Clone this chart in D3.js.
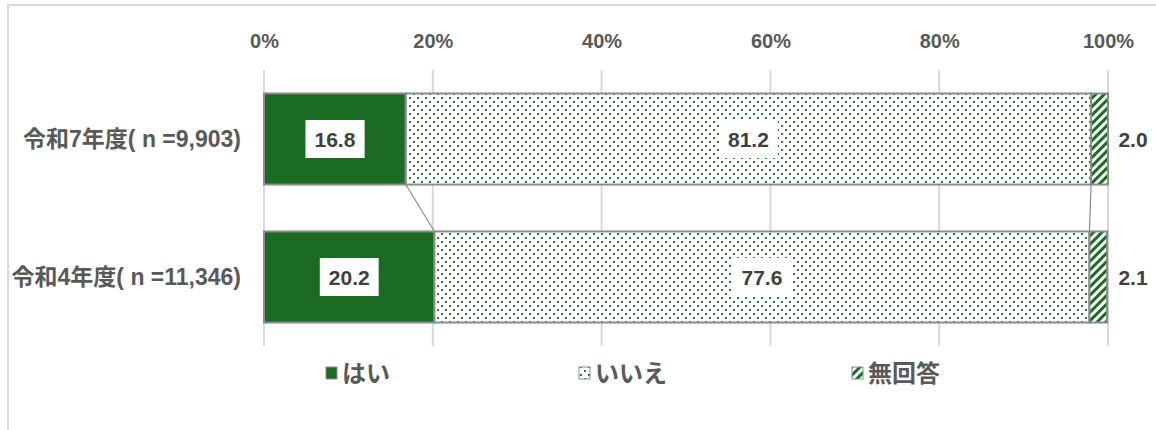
<!DOCTYPE html>
<html>
<head>
<meta charset="utf-8">
<script src="https://cdn.jsdelivr.net/npm/d3@7"></script>
<style>
  body { margin: 0; background: #fff; }
  text { font-family: "Liberation Sans", Arial, "Noto Sans CJK JP", sans-serif; font-weight: bold; }
</style>
</head>
<body>
<div id="content"></div>
<script>
(function(){

  // data
  var categories = ["令和7年度( n =9,903)", "令和4年度( n =11,346)"];
  var seriesNames = ["はい", "いいえ", "無回答"];
  var hai = [16.8, 20.2];
  var iie = [81.2, 77.6];
  var mukaitou = [2.0, 2.1];
  var tickValues = [0, 20, 40, 60, 80, 100];

  var width = 1156, height = 430;
  var margin = {top: 70, right: 48, bottom: 84, left: 264};

  var svg = d3.select("#content").append("svg")
      .attr("width", width)
      .attr("height", height);

  var defs = svg.append("defs");

  // dotted pattern for いいえ
  var dots = defs.append("pattern")
      .attr("id", "dots")
      .attr("patternUnits", "userSpaceOnUse")
      .attr("width", 8).attr("height", 8);
  dots.append("rect").attr("width", 8).attr("height", 8).attr("fill", "#fff");
  dots.append("rect").attr("x", 1).attr("y", 1).attr("width", 2).attr("height", 2).attr("fill", "#2a7a35");
  dots.append("rect").attr("x", 5).attr("y", 5).attr("width", 2).attr("height", 2).attr("fill", "#2a7a35");

  // diagonal stripes for 無回答
  var hatch = defs.append("pattern")
      .attr("id", "hatch")
      .attr("patternUnits", "userSpaceOnUse")
      .attr("width", 6).attr("height", 6)
      .attr("patternTransform", "rotate(45)");
  hatch.append("rect").attr("width", 6).attr("height", 6).attr("fill", "#fff");
  hatch.append("rect").attr("width", 3).attr("height", 6).attr("fill", "#1b6b23");

  var fills = ["#1b6b23", "url(#dots)", "url(#hatch)"];

  // outer frame
  svg.append("rect")
      .attr("x", 8).attr("y", 5)
      .attr("width", width + 20).attr("height", height + 20)
      .attr("fill", "none")
      .attr("stroke", "#d9d9d9")
      .attr("stroke-width", 2);

  var x = d3.scaleLinear()
      .domain([0, 100])
      .range([margin.left, width - margin.right]);

  var y = d3.scaleBand()
      .domain(categories)
      .range([margin.top, height - margin.bottom])
      .paddingInner(0.34)
      .paddingOuter(0.17);

  // gridlines
  svg.append("g")
      .selectAll("line")
      .data(tickValues)
      .enter().append("line")
      .attr("x1", function(d){ return x(d); })
      .attr("x2", function(d){ return x(d); })
      .attr("y1", margin.top)
      .attr("y2", height - margin.bottom)
      .attr("stroke", "#d9d9d9")
      .attr("stroke-width", 2);

  // top axis labels
  var axis = svg.append("g")
      .attr("transform", "translate(0,51)")
      .call(d3.axisTop(x).tickValues(tickValues).tickSize(0).tickFormat(function(d){ return d + "%"; }));
  axis.select(".domain").remove();
  axis.selectAll("text")
      .attr("fill", "#595959")
      .style("font-size", "20px");

  // stack
  var rows = categories.map(function(c, i){
    return {cat: c, "はい": hai[i], "いいえ": iie[i], "無回答": mukaitou[i]};
  });
  var stack = d3.stack().keys(seriesNames)(rows);

  // series lines between bars
  var lineGroup = svg.append("g");
  [0, 1].forEach(function(s){
    for (var i = 0; i < categories.length - 1; i++) {
      lineGroup.append("line")
          .attr("x1", x(stack[s][i][1]))
          .attr("y1", y(categories[i]) + y.bandwidth())
          .attr("x2", x(stack[s][i + 1][1]))
          .attr("y2", y(categories[i + 1]))
          .attr("stroke", "#8c8c8c")
          .attr("stroke-width", 1.2);
    }
  });

  // bars
  var layers = svg.selectAll(".layer")
      .data(stack)
      .enter().append("g")
      .attr("class", "layer")
      .attr("fill", function(d, i){ return fills[i]; });

  layers.selectAll("rect")
      .data(function(d){ return d; })
      .enter().append("rect")
      .attr("x", function(d){ return x(d[0]); })
      .attr("y", function(d){ return y(d.data.cat); })
      .attr("width", function(d){ return x(d[1]) - x(d[0]); })
      .attr("height", y.bandwidth())
      .attr("stroke", "#8c8c8c")
      .attr("stroke-width", 2);

  // data labels
  var labelGroup = svg.append("g");
  stack.forEach(function(layer, s){
    layer.forEach(function(d){
      var val = d[1] - d[0];
      var cy = y(d.data.cat) + y.bandwidth() / 2;
      var cx;
      if (s === 2) {
        cx = x(100) + 25;
      } else {
        cx = (x(d[0]) + x(d[1])) / 2;
      }
      var g = labelGroup.append("g");
      var t = g.append("text")
          .attr("x", cx)
          .attr("y", cy)
          .attr("dy", "0.36em")
          .attr("text-anchor", "middle")
          .attr("fill", "#404040")
          .style("font-size", "21px")
          .text(val.toFixed(1));
      if (s !== 2) {
        var bb = t.node().getBBox();
        g.insert("rect", "text")
            .attr("x", bb.x - 9)
            .attr("y", cy - 19)
            .attr("width", bb.width + 18)
            .attr("height", 38)
            .attr("fill", "#fff");
      }
    });
  });

  // category labels
  svg.append("g")
      .selectAll("text")
      .data(categories)
      .enter().append("text")
      .attr("x", 241)
      .attr("y", function(d){ return y(d) + y.bandwidth() / 2; })
      .attr("dy", "0.36em")
      .attr("text-anchor", "end")
      .attr("fill", "#595959")
      .style("font-size", "23px")
      .text(function(d){ return d; });

  // legend
  var legendX = [326, 579, 852];
  var legend = svg.append("g")
      .selectAll("g")
      .data(seriesNames)
      .enter().append("g")
      .attr("transform", function(d, i){ return "translate(" + legendX[i] + ",373)"; });
  legend.append("rect")
      .attr("x", 0).attr("y", -6)
      .attr("width", 11).attr("height", 12)
      .attr("fill", function(d, i){ return fills[i]; })
      .attr("stroke", "#8c8c8c")
      .attr("stroke-width", 1);
  legend.append("text")
      .attr("x", 16)
      .attr("dy", "0.36em")
      .attr("fill", "#595959")
      .style("font-size", "24px")
      .text(function(d){ return d; });

})();
</script>
</body>
</html>
